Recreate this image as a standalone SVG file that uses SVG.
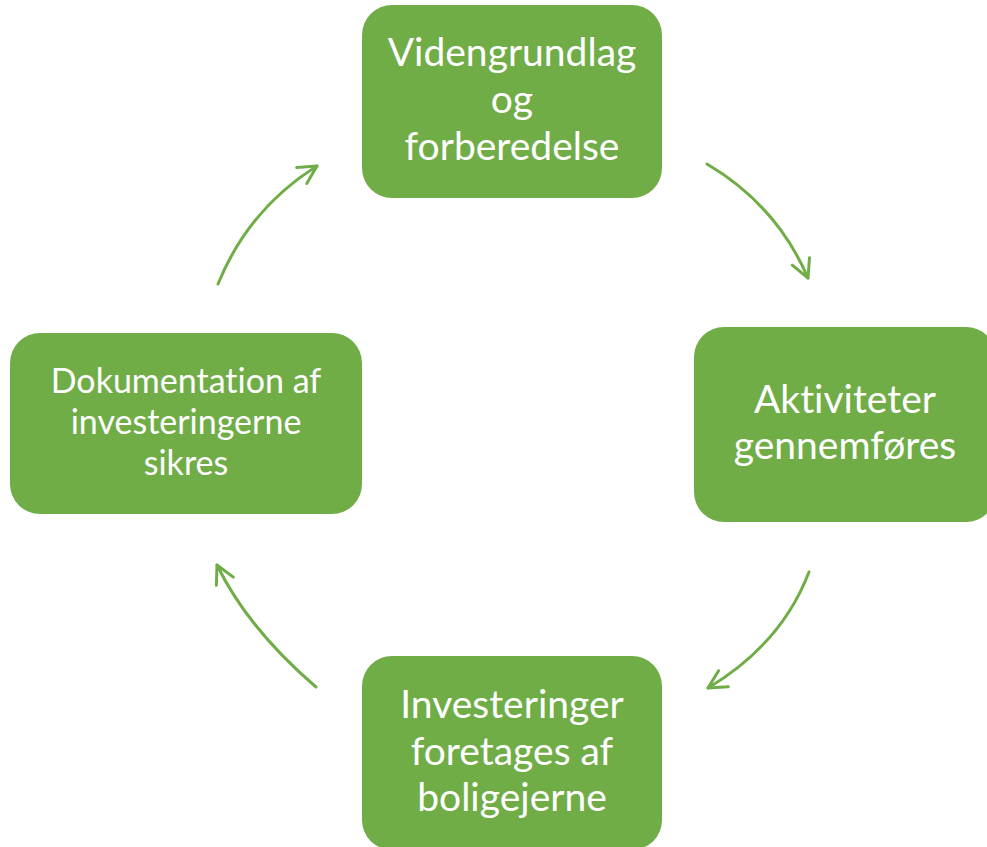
<svg xmlns="http://www.w3.org/2000/svg" width="987" height="847" viewBox="0 0 987 847">
<style>
.box{fill:#70AD47;}
.lbl{fill:#FFFFFF;font-family:Lato,"Open Sans","Liberation Sans",sans-serif;text-anchor:middle;font-variant-ligatures:none;font-feature-settings:"liga" 0;}
.big{font-size:39px;}
.small{font-size:34px;}
.arr{fill:none;stroke:#70AD47;stroke-width:3;stroke-linecap:round;marker-end:url(#head);}
</style>
<defs>
<marker id="head" markerUnits="userSpaceOnUse" markerWidth="26" markerHeight="26" refX="20" refY="11" orient="auto" viewBox="0 0 26 22">
<path d="M2,1.6 L20,11 L2,20.4" fill="none" stroke="#70AD47" stroke-width="3" stroke-linecap="round" stroke-linejoin="round"/>
</marker>
</defs>
<rect width="987" height="847" fill="#FFFFFF"/>
<g id="connectors">
<path class="arr" d="M218,284 Q248.5,209 317,166"/>
<path class="arr" d="M707,164 Q776.5,205 808,278"/>
<path class="arr" d="M809,572 Q781.5,644 708,688"/>
<path class="arr" d="M316,687 Q247.5,628 217,565"/>
</g>
<g id="node-videngrundlag">
<rect class="box" x="362" y="5" width="300" height="193" rx="30"/>
<text class="lbl big" x="512" y="66">Videngrundlag</text>
<text class="lbl big" x="512" y="113">og</text>
<text class="lbl big" x="512" y="160">forberedelse</text>
</g>
<g id="node-aktiviteter">
<rect class="box" x="694" y="327" width="302" height="195" rx="30"/>
<text class="lbl big" x="845" y="413">Aktiviteter</text>
<text class="lbl big" x="845" y="459">gennemføres</text>
</g>
<g id="node-investeringer">
<rect class="box" x="362" y="656" width="300" height="194" rx="30"/>
<text class="lbl big" x="512" y="718">Investeringer</text>
<text class="lbl big" x="512" y="765">foretages af</text>
<text class="lbl big" x="512" y="811">boligejerne</text>
</g>
<g id="node-dokumentation">
<rect class="box" x="10" y="333" width="352" height="181" rx="30"/>
<text class="lbl small" x="186" y="393">Dokumentation af</text>
<text class="lbl small" x="186" y="434">investeringerne</text>
<text class="lbl small" x="186" y="475">sikres</text>
</g>
</svg>
